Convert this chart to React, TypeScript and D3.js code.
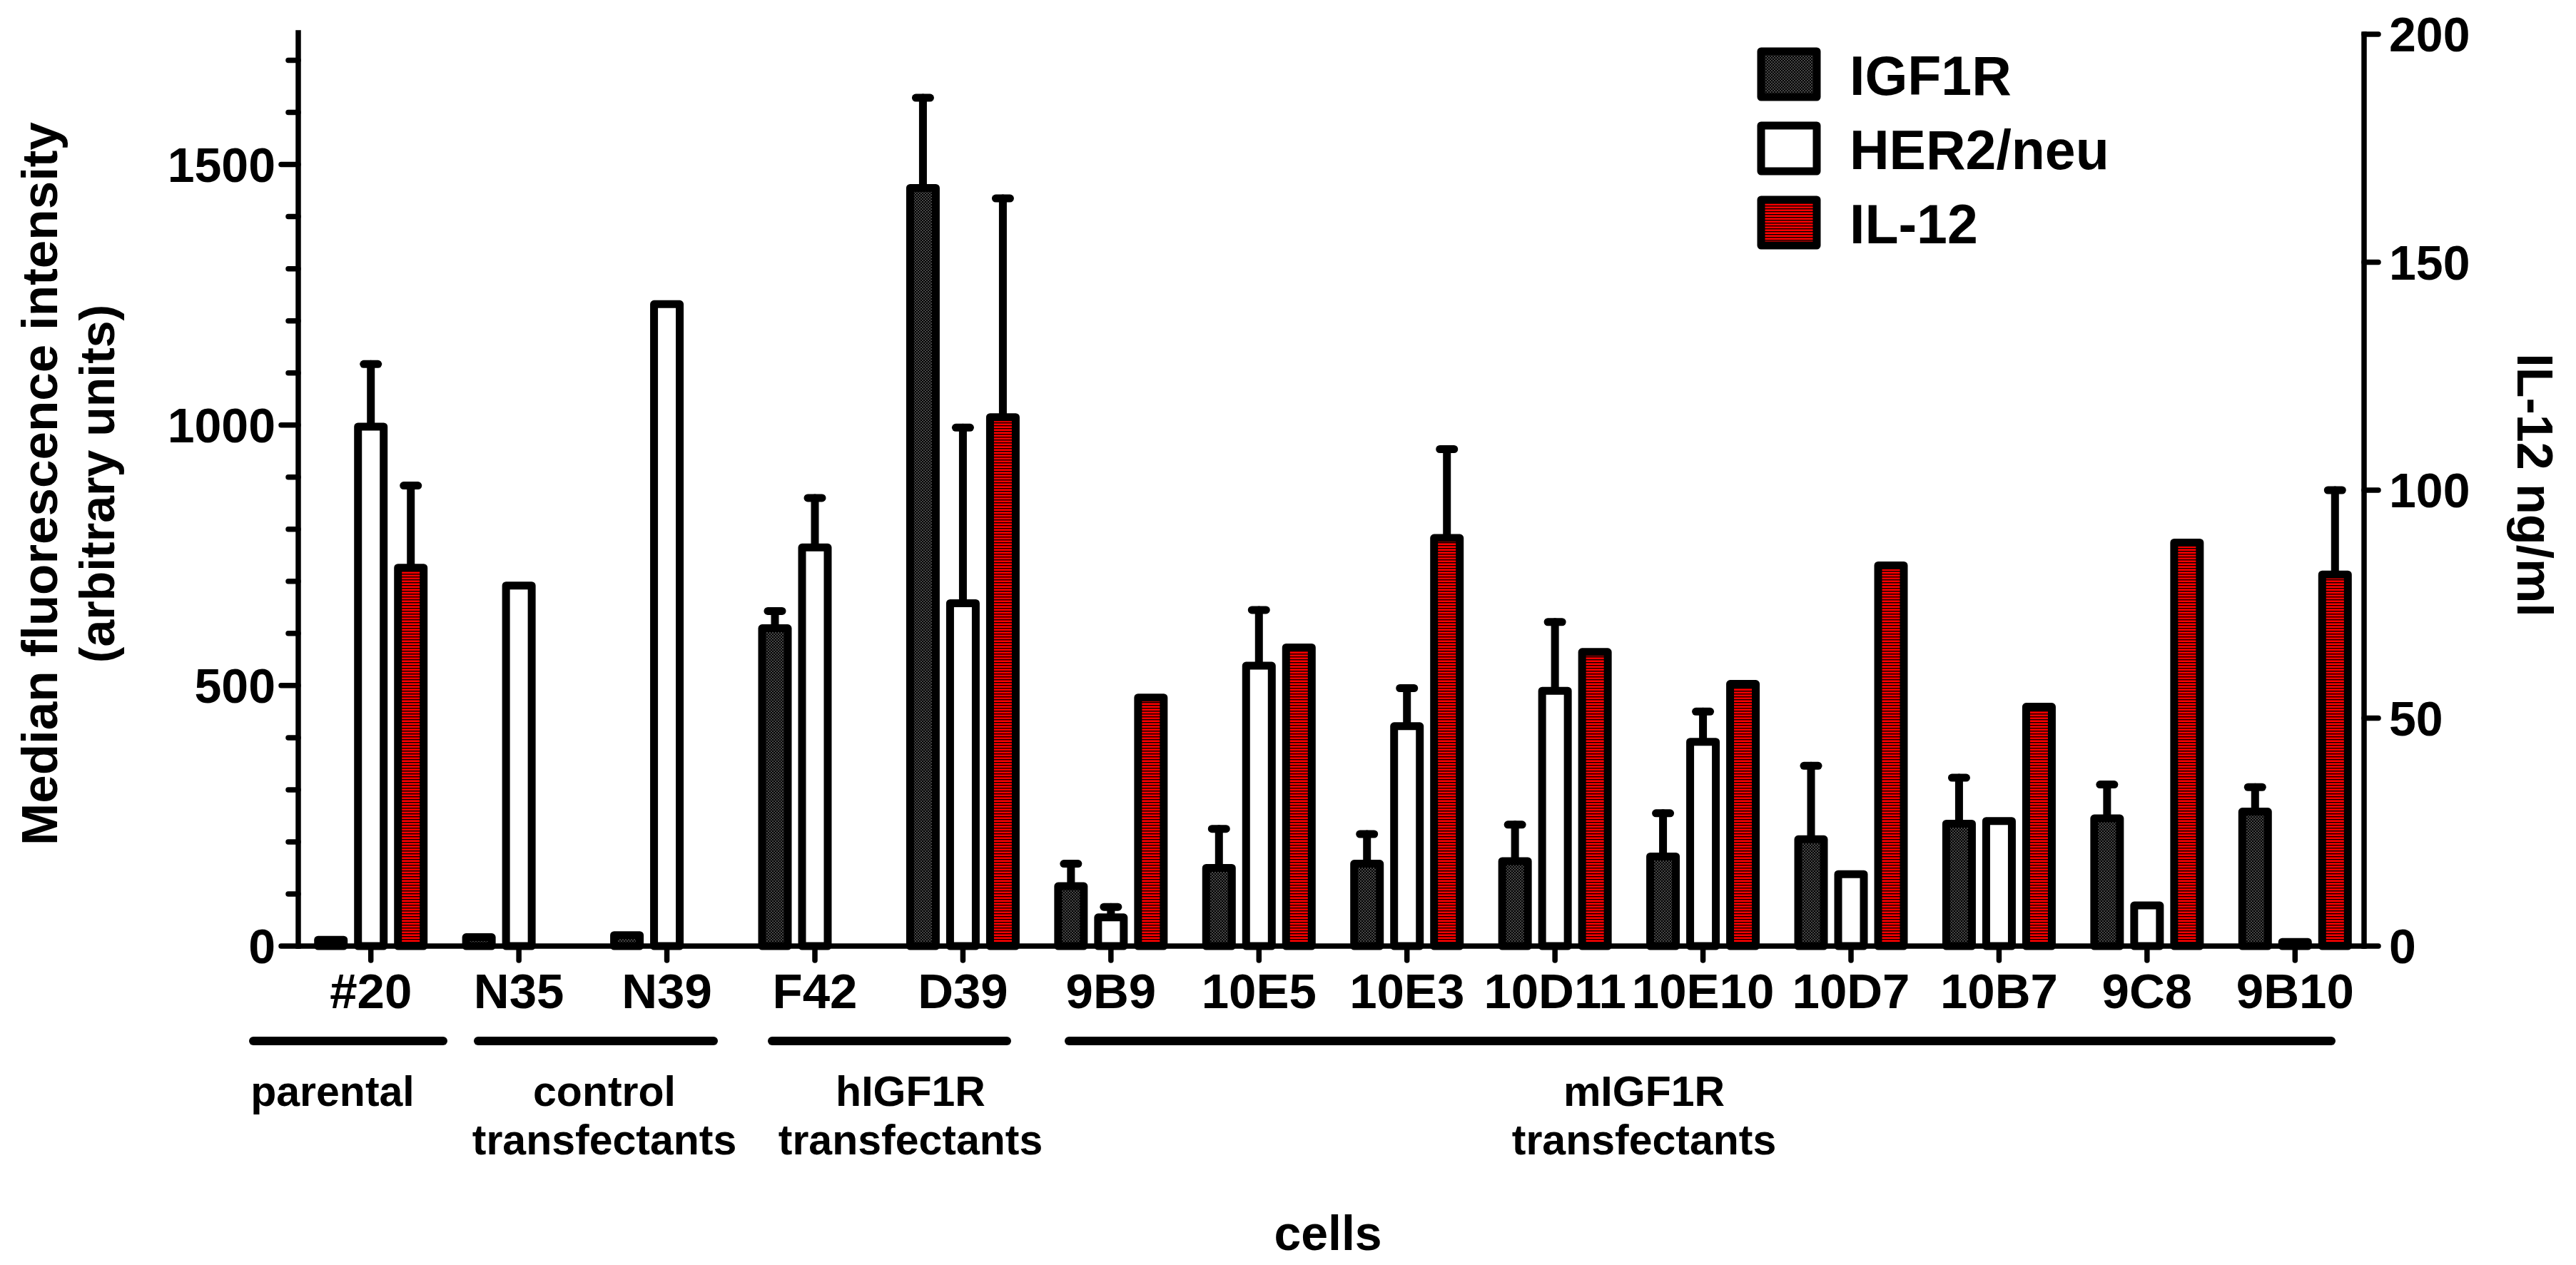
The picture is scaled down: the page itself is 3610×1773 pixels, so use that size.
import React from "react";
import * as d3 from "d3";

// ---------- data ----------
const categories = ["#20", "N35", "N39", "F42", "D39", "9B9", "10E5", "10E3", "10D11", "10E10", "10D7", "10B7", "9C8", "9B10"];
const seriesNames = ["IGF1R", "HER2/neu", "IL-12"];
const igf1r = [12, 17, 21, 610, 1455, 115, 150, 158, 163, 172, 205, 235, 245, 258];
const igf1rErr = [null, null, null, 643, 1628, 158, 225, 215, 233, 255, 346, 323, 310, 305];
const her2 = [997, 692, 1232, 765, 658, 55, 538, 422, 490, 392, 138, 240, 78, 8];
const her2Err = [1117, null, null, 860, 995, 75, 645, 495, 622, 450, null, null, null, null];
const il12 = [83, null, null, null, 116, 54.5, 65.5, 89.5, 64.5, 57.5, 83.5, 52.5, 88.5, 81.5];
const il12Err = [101, null, null, null, 164, null, null, 109, null, null, null, null, null, 100];
const leftMajorTicks = [0, 500, 1000, 1500];
const leftMinorTicks = [100, 200, 300, 400, 600, 700, 800, 900, 1100, 1200, 1300, 1400, 1600, 1700];
const rightTicks = [0, 50, 100, 150, 200];
const groupLabels = [["parental"], ["control", "transfectants"], ["hIGF1R", "transfectants"], ["mIGF1R", "transfectants"]];
const leftTitle = ["Median fluorescence intensity", "(arbitrary units)"];
const rightTitle = "IL-12 ng/ml";
const xTitle = "cells";

// ---------- layout ----------
const W = 3610;
const H = 1773;
const groupLayout = [
  { x1: 355, x2: 621, tx: 466 },
  { x1: 670, x2: 1000, tx: 847 },
  { x1: 1082, x2: 1411, tx: 1276 },
  { x1: 1498, x2: 3267, tx: 2304 },
];
const FONT = "'Liberation Sans', Arial, Helvetica, sans-serif";

export default function App() {
  const x = d3.scaleBand<string>().domain(categories).range([416, 3320]).paddingInner(0).paddingOuter(0);
  const sub = d3.scaleBand<string>().domain(seriesNames).range([-84, 84]);
  const yL = d3.scaleLinear().domain([0, 1750]).range([1326, 48]);
  const yR = d3.scaleLinear().domain([0, 200]).range([1326, 48]);
  const axL = 418;
  const axR = 3313;
  const y0 = yL(0);

  const series = [
    { name: "IGF1R", vals: igf1r, errs: igf1rErr, scale: yL, fill: "url(#pIGF)" },
    { name: "HER2/neu", vals: her2, errs: her2Err, scale: yL, fill: "#ffffff" },
    { name: "IL-12", vals: il12, errs: il12Err, scale: yR, fill: "url(#pIL)" },
  ];
  const barW = 36;
  const sw = 11;

  return (
    <svg
      width={W}
      height={H}
      viewBox={`0 0 ${W} ${H}`}
      style={{ position: "absolute", left: 0, top: 0, background: "#fff" }}
      fontFamily={FONT}
      fontWeight="bold"
    >
      <defs>
        <pattern id="pIGF" width="4" height="4" patternUnits="userSpaceOnUse">
          <rect width="4" height="4" fill="#000" />
          <rect x="0" y="0" width="2" height="2" fill="#474747" />
          <rect x="2" y="2" width="2" height="2" fill="#474747" />
        </pattern>
        <pattern id="pIL" width="4" height="4" patternUnits="userSpaceOnUse">
          <rect width="4" height="4" fill="#ff0000" />
          <rect x="0" y="0" width="4" height="1.4" fill="#000" />
        </pattern>
      </defs>
      <rect width={W} height={H} fill="#fff" />

      {/* error bars */}
      {series.map((s) =>
        categories.map((c, i) => {
          const v = s.vals[i];
          const e = s.errs[i];
          if (v == null || e == null) return null;
          const cx = (x(c) as number) + x.bandwidth() / 2 + (sub(s.name) as number) + sub.bandwidth() / 2;
          return (
            <g key={`e-${s.name}-${c}`} stroke="#000" strokeWidth={sw} strokeLinecap="round">
              <line x1={cx} x2={cx} y1={s.scale(v)} y2={s.scale(e)} />
              <line x1={cx - 10} x2={cx + 10} y1={s.scale(e)} y2={s.scale(e)} />
            </g>
          );
        })
      )}

      {/* bars */}
      {series.map((s) =>
        categories.map((c, i) => {
          const v = s.vals[i];
          if (v == null) return null;
          const cx = (x(c) as number) + x.bandwidth() / 2 + (sub(s.name) as number) + sub.bandwidth() / 2;
          const yt = s.scale(v);
          return (
            <rect
              key={`b-${s.name}-${c}`}
              x={cx - barW / 2}
              y={yt}
              width={barW}
              height={y0 - yt}
              fill={s.fill}
              stroke="#000"
              strokeWidth={sw}
              strokeLinejoin="round"
            />
          );
        })
      )}

      {/* axes */}
      <g stroke="#000" strokeWidth={7.5} strokeLinecap="round">
        <line x1={axL} x2={axL} y1={yL(1750) - 2} y2={y0} strokeLinecap="square" />
        <line x1={axL} x2={axR} y1={y0} y2={y0} />
        <line x1={axR} x2={axR} y1={yR(200)} y2={y0} strokeLinecap="square" />
        {leftMajorTicks.map((t) => (
          <line key={`lm${t}`} x1={axL - 24} x2={axL} y1={yL(t)} y2={yL(t)} />
        ))}
        {leftMinorTicks.map((t) => (
          <line key={`ln${t}`} x1={axL - 14} x2={axL} y1={yL(t)} y2={yL(t)} />
        ))}
        {rightTicks.map((t) => (
          <line key={`r${t}`} x1={axR} x2={axR + 20} y1={yR(t)} y2={yR(t)} />
        ))}
        {categories.map((c) => {
          const cx = (x(c) as number) + x.bandwidth() / 2;
          return <line key={`xt${c}`} x1={cx} x2={cx} y1={y0} y2={y0 + 20} />;
        })}
      </g>

      {/* tick labels */}
      {leftMajorTicks.map((t) => (
        <text key={`llab${t}`} x={386} y={yL(t)} dy="0.36em" textAnchor="end" fontSize={68}>
          {t}
        </text>
      ))}
      {rightTicks.map((t) => (
        <text key={`rlab${t}`} x={3348} y={yR(t)} dy="0.36em" textAnchor="start" fontSize={68}>
          {t}
        </text>
      ))}
      {categories.map((c) => (
        <text key={`xl${c}`} x={(x(c) as number) + x.bandwidth() / 2} y={1413} textAnchor="middle" fontSize={69}>
          {c}
        </text>
      ))}

      {/* group brackets */}
      {groupLabels.map((lines, gi) => {
        const g = groupLayout[gi];
        return (
          <g key={`g${gi}`}>
            <line x1={g.x1} x2={g.x2} y1={1459} y2={1459} stroke="#000" strokeWidth={12} strokeLinecap="round" />
            {lines.map((t, li) => (
              <text key={li} x={g.tx} y={1550 + li * 68} textAnchor="middle" fontSize={59}>
                {t}
              </text>
            ))}
          </g>
        );
      })}

      {/* axis titles */}
      <text transform="translate(80,678) rotate(-90)" textAnchor="middle" fontSize={71}>
        {leftTitle[0]}
      </text>
      <text transform="translate(160,678) rotate(-90)" textAnchor="middle" fontSize={68}>
        {leftTitle[1]}
      </text>
      <text transform="translate(3528,680) rotate(90)" textAnchor="middle" fontSize={70}>
        {rightTitle}
      </text>
      <text x={1861} y={1752} textAnchor="middle" fontSize={68}>
        {xTitle}
      </text>

      {/* legend */}
      {series.map((s, i) => (
        <g key={`leg${i}`} transform={`translate(0, ${i * 104})`}>
          <rect x={2468} y={72} width={78} height={64} fill={s.fill} stroke="#000" strokeWidth={sw} strokeLinejoin="round" />
          <text x={2592} y={133} fontSize={77}>
            {s.name}
          </text>
        </g>
      ))}
    </svg>
  );
}
